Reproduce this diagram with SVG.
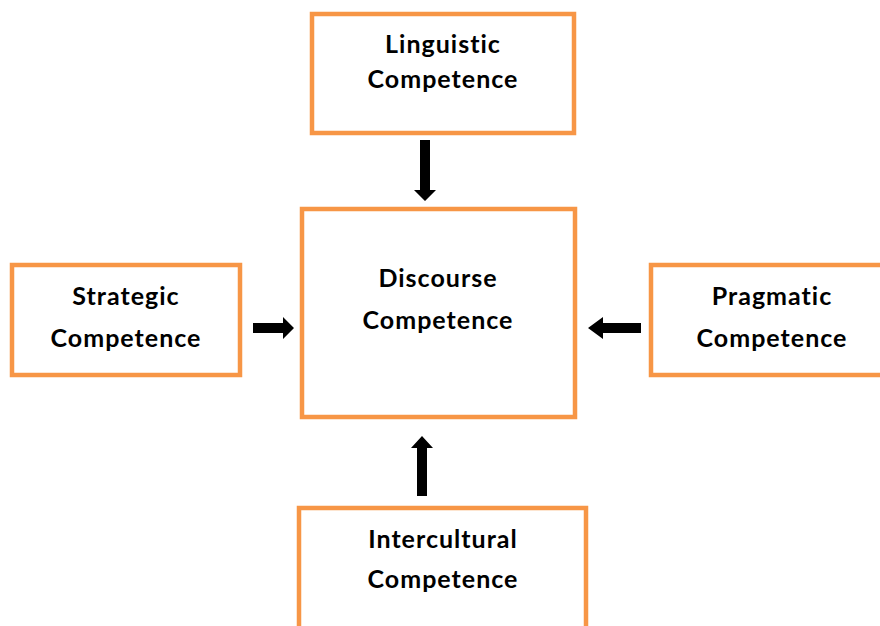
<svg xmlns="http://www.w3.org/2000/svg" width="880" height="626" viewBox="0 0 880 626">
<style>
.box{fill:#fff;stroke:#F79646;stroke-width:4.5}
.t{font-family:Lato,"Open Sans","Liberation Sans",sans-serif;font-weight:bold;font-size:25px;letter-spacing:1px;fill:#000;text-anchor:middle}
.arr{fill:#000}
</style>
<rect width="880" height="626" fill="#fff"/>
<g id="linguistic">
<rect class="box" x="312" y="14" width="262" height="119"/>
<text class="t" x="443" y="53">Linguistic</text>
<text class="t" x="443" y="88">Competence</text>
</g>
<g id="discourse">
<rect class="box" x="302" y="209" width="273" height="208"/>
<text class="t" x="438" y="287">Discourse</text>
<text class="t" x="438" y="329">Competence</text>
</g>
<g id="strategic">
<rect class="box" x="12" y="265" width="228" height="110"/>
<text class="t" x="126" y="305">Strategic</text>
<text class="t" x="126" y="347">Competence</text>
</g>
<g id="pragmatic">
<rect class="box" x="651" y="265" width="240" height="110"/>
<text class="t" x="772" y="305">Pragmatic</text>
<text class="t" x="772" y="347">Competence</text>
</g>
<g id="intercultural">
<rect class="box" x="299" y="508" width="287" height="130"/>
<text class="t" x="443" y="548">Intercultural</text>
<text class="t" x="443" y="588">Competence</text>
</g>
<g id="connectors">
<polygon class="arr" points="420,140 430,140 430,190 436,190 425,201 414,190 420,190"/>
<polygon class="arr" points="253,323 283,323 283,317 294,328 283,339 283,333 253,333"/>
<polygon class="arr" points="641,323 603,323 603,317 588,328 603,339 603,333 641,333"/>
<polygon class="arr" points="417,496 427,496 427,448 433,448 422,436 411,448 417,448"/>
</g>
</svg>
